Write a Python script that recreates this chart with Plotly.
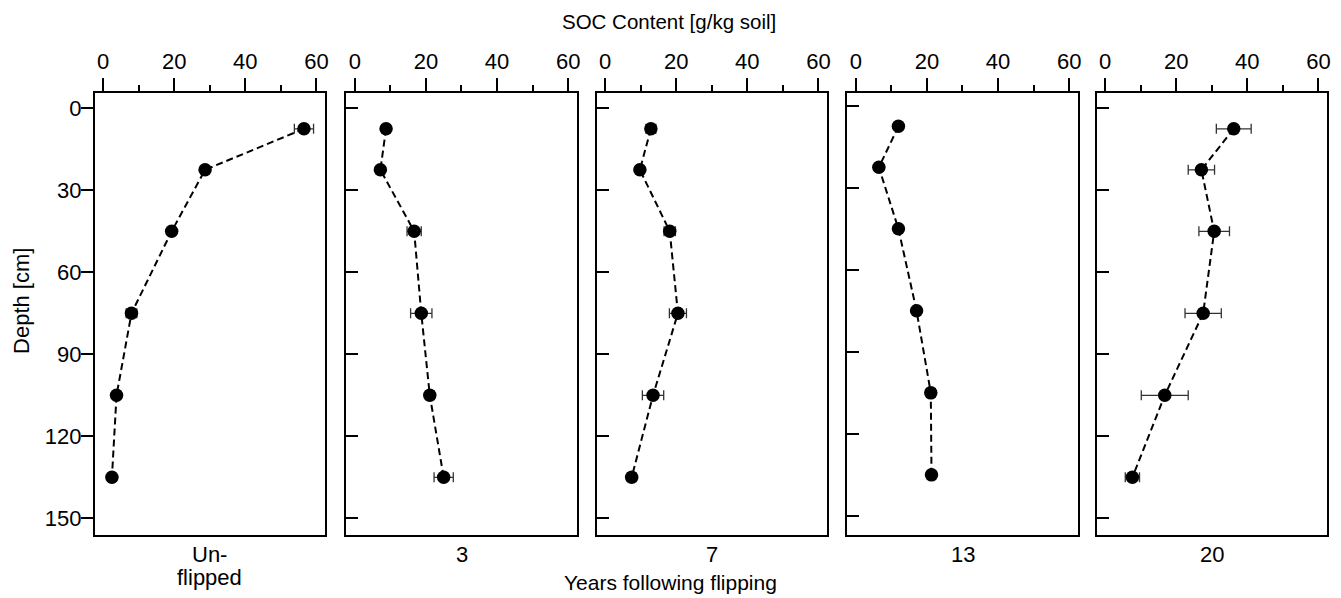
import plotly.graph_objects as go

# ---- data ----
depth = [7.5, 22.5, 45, 75, 105, 135]
panel_labels = ["Un-", "3", "7", "13", "20"]
soc_unflipped = [56.5, 28.7, 19.3, 8.0, 3.8, 2.5]
err_unflipped = [2.7, 0.8, 0.8, 1.5, 0.8, 0.8]
soc_3 = [8.8, 7.2, 16.7, 18.7, 21.1, 25.0]
err_3 = [0.8, 0.6, 2.0, 3.0, 1.2, 2.7]
soc_7 = [12.9, 9.8, 18.2, 20.5, 13.5, 7.5]
err_7 = [1.4, 0.8, 1.6, 2.4, 3.0, 1.2]
soc_13 = [12.0, 6.5, 12.0, 17.1, 21.1, 21.3]
err_13 = [0.8, 0.6, 0.8, 1.0, 1.2, 0.8]
soc_20 = [36.2, 27.1, 30.7, 27.6, 16.8, 7.7]
err_20 = [4.9, 3.7, 4.3, 5.1, 6.6, 2.0]
x_ticks = [0, 20, 40, 60]
y_ticks = [0, 30, 60, 90, 120, 150]

series = [(soc_unflipped, err_unflipped), (soc_3, err_3), (soc_7, err_7),
          (soc_13, err_13), (soc_20, err_20)]

OFF = 8  # page body margin
W, H = 1341 - OFF, 598 - OFF
FONT = "Liberation Sans, Arial, Helvetica, sans-serif"
fig = go.Figure()


def px(x):
    return (x - OFF) / W


def py(y):
    return 1 - (y - OFF) / H


box_w = 231
lefts = [95, 347.5, 598.5, 850, 1100]
top_px, bot_px = 92.5, 535
ydom = [py(bot_px), py(top_px)]
yranges = [[156.1, -5.78]] * 3 + [[157.0, -4.88], [156.1, -5.78]]

for i, (vals, errs) in enumerate(series):
    n = "" if i == 0 else str(i + 1)
    fig.add_trace(go.Scatter(
        x=vals, y=depth, mode="lines+markers",
        xaxis="x" + n, yaxis="y" + n,
        line=dict(color="black", width=2, dash="7px,4px"),
        marker=dict(color="black", size=13.5),
        error_x=dict(type="data", array=errs, visible=True,
                     color="#333333", thickness=1.3, width=5),
        showlegend=False, cliponaxis=False,
    ))
    l = lefts[i]
    fig.layout["xaxis" + n] = dict(
        domain=[px(l), px(l + box_w)], range=[-2.33, 62.43], side="top",
        anchor="y" + n,
        tickvals=x_ticks, ticks="outside", ticklen=13, tickwidth=1.6,
        tickcolor="black", showline=True, linecolor="black", linewidth=1.8,
        mirror=True, showgrid=False, zeroline=False,
        tickfont=dict(family=FONT, size=22, color="black"),
        minor=dict(tickvals=[10, 30, 50], ticks="outside", ticklen=6,
                   tickwidth=1.6, tickcolor="black", showgrid=False),
    )
    fig.layout["yaxis" + n] = dict(
        domain=ydom, range=yranges[i], anchor="x" + n,
        tickvals=y_ticks, ticks="outside" if i == 0 else "inside",
        ticklen=12, tickwidth=1.6, tickcolor="black",
        showticklabels=(i == 0), showline=True, linecolor="black",
        linewidth=1.8, mirror=True, showgrid=False, zeroline=False,
        ticklabelstandoff=-5,
        tickfont=dict(family=FONT, size=22, color="black"),
    )
    fig.add_annotation(
        x=px(l + box_w / 2), y=py(554), xref="paper", yref="paper",
        text=panel_labels[i], showarrow=False, yanchor="middle",
        xanchor="center", font=dict(family=FONT, size=22, color="black"),
    )

fig.add_annotation(x=px(95 + box_w / 2), y=py(577), xref="paper", yref="paper",
                   text="flipped", showarrow=False, yanchor="middle",
                   xanchor="center", font=dict(family=FONT, size=22, color="black"))
fig.add_annotation(x=px(671), y=py(22), xref="paper", yref="paper",
                   text="SOC Content [g/kg soil]", showarrow=False,
                   yanchor="middle", xanchor="center",
                   font=dict(family=FONT, size=20.5, color="black"))
fig.add_annotation(x=px(672), y=py(582), xref="paper", yref="paper",
                   text="Years following flipping", showarrow=False,
                   yanchor="middle", xanchor="center",
                   font=dict(family=FONT, size=21, color="black"))
fig.add_annotation(x=px(21), y=py(301), xref="paper", yref="paper",
                   text="Depth [cm]", showarrow=False, textangle=-90,
                   xanchor="center", yanchor="middle",
                   font=dict(family=FONT, size=22, color="black"))

fig.update_layout(
    width=W, height=H, margin=dict(l=0, r=0, t=0, b=0),
    paper_bgcolor="white", plot_bgcolor="white",
)
fig.write_html("out.html")
